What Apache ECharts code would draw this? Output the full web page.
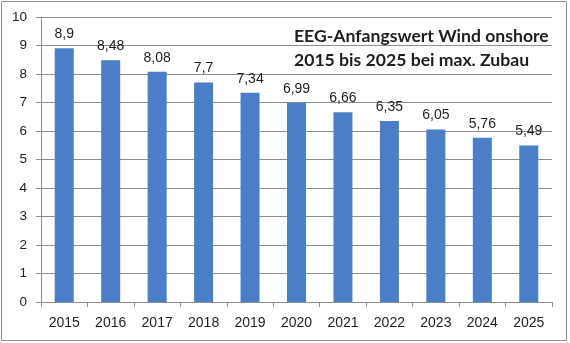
<!DOCTYPE html>
<html>
<head>
<meta charset="utf-8">
<script src="https://cdn.jsdelivr.net/npm/echarts@6/dist/echarts.min.js"></script>
<style>
  html, body { margin: 0; padding: 0; background: #fff; }
  #chart { width: 570px; height: 343px; }
</style>
</head>
<body>
<div id="chart"></div>
<script>
// EEG starting tariff, onshore wind, ct/kWh
const years = ['2015', '2016', '2017', '2018', '2019', '2020', '2021', '2022', '2023', '2024', '2025'];
const values = [8.9, 8.48, 8.08, 7.7, 7.34, 6.99, 6.66, 6.35, 6.05, 5.76, 5.49];
const yTicks = [0, 1, 2, 3, 4, 5, 6, 7, 8, 9, 10];
const titleLines = ['EEG-Anfangswert Wind onshore', '2015 bis 2025 bei max. Zubau'];

const chart = echarts.init(document.getElementById('chart'), null, { renderer: 'canvas' });

const lineGray = '#8e8e8e';
const textDark = '#1e1e1e';
const comma = v => String(v).replace('.', ',');

chart.setOption({
  animation: false,
  backgroundColor: '#fff',
  grid: { left: 41, right: 18, top: 17, bottom: 41, containLabel: false },
  title: {
    text: titleLines.join('\n'),
    left: 289,
    top: 19,
    textStyle: {
      fontFamily: 'Lato',
      fontWeight: 'bold',
      fontSize: 17.6,
      lineHeight: 24,
      color: textDark
    }
  },
  graphic: [{
    type: 'rect',
    shape: { x: 1.5, y: 1.5, width: 565, height: 339 },
    style: { fill: 'none', stroke: lineGray, lineWidth: 1 },
    z: 100
  }],
  xAxis: {
    type: 'category',
    data: years,
    axisLine: { lineStyle: { color: lineGray, width: 1 } },
    axisTick: { show: true, alignWithLabel: false, inside: false, length: 5, lineStyle: { color: lineGray } },
    axisLabel: {
      margin: 14,
      fontFamily: 'Liberation Sans',
      fontSize: 14,
      color: textDark
    }
  },
  yAxis: {
    type: 'value',
    min: yTicks[0],
    max: yTicks[yTicks.length - 1],
    interval: 1,
    axisLine: { show: true, lineStyle: { color: lineGray, width: 1 } },
    axisTick: { show: true, length: 5, lineStyle: { color: lineGray } },
    splitLine: { show: true, lineStyle: { color: lineGray, width: 1 } },
    axisLabel: {
      margin: 14,
      fontFamily: 'Liberation Sans',
      fontSize: 13.5,
      color: textDark
    }
  },
  series: [{
    type: 'bar',
    data: values,
    barWidth: 19,
    itemStyle: { color: '#4a7ec7' },
    label: {
      show: true,
      position: 'top',
      distance: 7,
      fontFamily: 'Liberation Sans',
      fontSize: 14,
      color: textDark,
      formatter: p => comma(p.value)
    }
  }]
});
</script>
</body>
</html>
